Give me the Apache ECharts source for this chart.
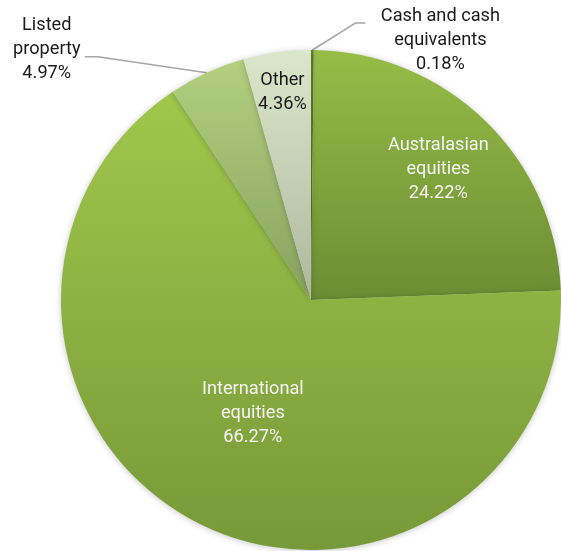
<!DOCTYPE html>
<html>
<head>
<meta charset="utf-8">
<script src="https://cdn.jsdelivr.net/npm/echarts@6/dist/echarts.min.js"></script>
<style>
html,body{margin:0;padding:0;background:#fff;}
#chart{width:561px;height:551px;}
</style>
</head>
<body>
<div id="chart"></div>
<script>
// Data (clockwise from 12 o'clock)
var categories = ['Cash and cash\nequivalents', 'Australasian\nequities', 'International\nequities', 'Listed\nproperty', 'Other'];
var values = [0.18, 24.22, 66.27, 4.97, 4.36];

// Styles
var gradients = [
  ['#6a8a32', '#5a7a28'],
  ['#96bd47', '#6c8c33'],
  ['#a0c74b', '#779938'],
  ['#b2d07f', '#87a25f'],
  ['#dbe7ca', '#adb89f']
];
var labelColors = ['#1a1a1a', '#f4f4f4', '#f4f4f4', '#1a1a1a', '#1a1a1a'];
var insideRadius = [null, 0.73, 0.51, null, 0.84];  // fraction of pie radius
var CX = 311, CY = 300, R = 250;

var chart = echarts.init(document.getElementById('chart'));

var data = categories.map(function (name, i) {
  return {
    name: name,
    value: values[i],
    itemStyle: {
      color: {
        type: 'linear', x: 0, y: 0, x2: 0, y2: 1,
        colorStops: [{offset: 0, color: gradients[i][0]}, {offset: 1, color: gradients[i][1]}]
      }
    },
    label: {
      position: insideRadius[i] ? 'inside' : 'outside',
      color: labelColors[i]
    },
    labelLine: { show: !insideRadius[i] }
  };
});

chart.setOption({
  backgroundColor: '#ffffff',
  animation: false,
  series: [{
    type: 'pie',
    center: [CX, CY],
    radius: [0, R],
    startAngle: 90,
    clockwise: true,
    avoidLabelOverlap: false,
    percentPrecision: 2,
    itemStyle: {
      borderWidth: 0,
      shadowBlur: 6,
      shadowColor: 'rgba(0,0,0,0.22)',
      shadowOffsetY: 1
    },
    label: {
      show: true,
      formatter: function (p) { return p.name + '\n' + p.percent.toFixed(2) + '%'; },
      fontFamily: 'Roboto',
      fontSize: 18.2,
      lineHeight: 24,
      color: '#1a1a1a'
    },
    labelLine: {
      show: true,
      length: 20,
      length2: 10,
      lineStyle: { color: '#a6a6a6', width: 1.5 }
    },
    labelLayout: function (params) {
      var i = params.dataIndex;
      if (insideRadius[i]) {
        var lr = params.labelRect;
        var mx = lr.x + lr.width / 2 - CX, my = lr.y + lr.height / 2 - CY;
        var d = Math.sqrt(mx * mx + my * my) || 1;
        var f = insideRadius[i] * R / d;
        return { x: CX + mx * f, y: CY + my * f, align: 'center', verticalAlign: 'middle' };
      }
      var p0 = params.labelLinePoints[0];
      var p1, p2, lx, ly;
      if (i === 0) {
        p1 = [p0[0] + 43, p0[1] - 27];
        p2 = [p1[0] + 10, p1[1]];
        lx = p2[0] + 75; ly = p2[1] + 17;
      } else {
        p1 = [p0[0] - 109, p0[1] - 16];
        p2 = [p1[0] - 13, p1[1]];
        lx = p2[0] - 38; ly = p2[1] - 7;
      }
      return { x: lx, y: ly, align: 'center', verticalAlign: 'middle', labelLinePoints: [p0, p1, p2] };
    },
    data: data
  }]
});
</script>
</body>
</html>
